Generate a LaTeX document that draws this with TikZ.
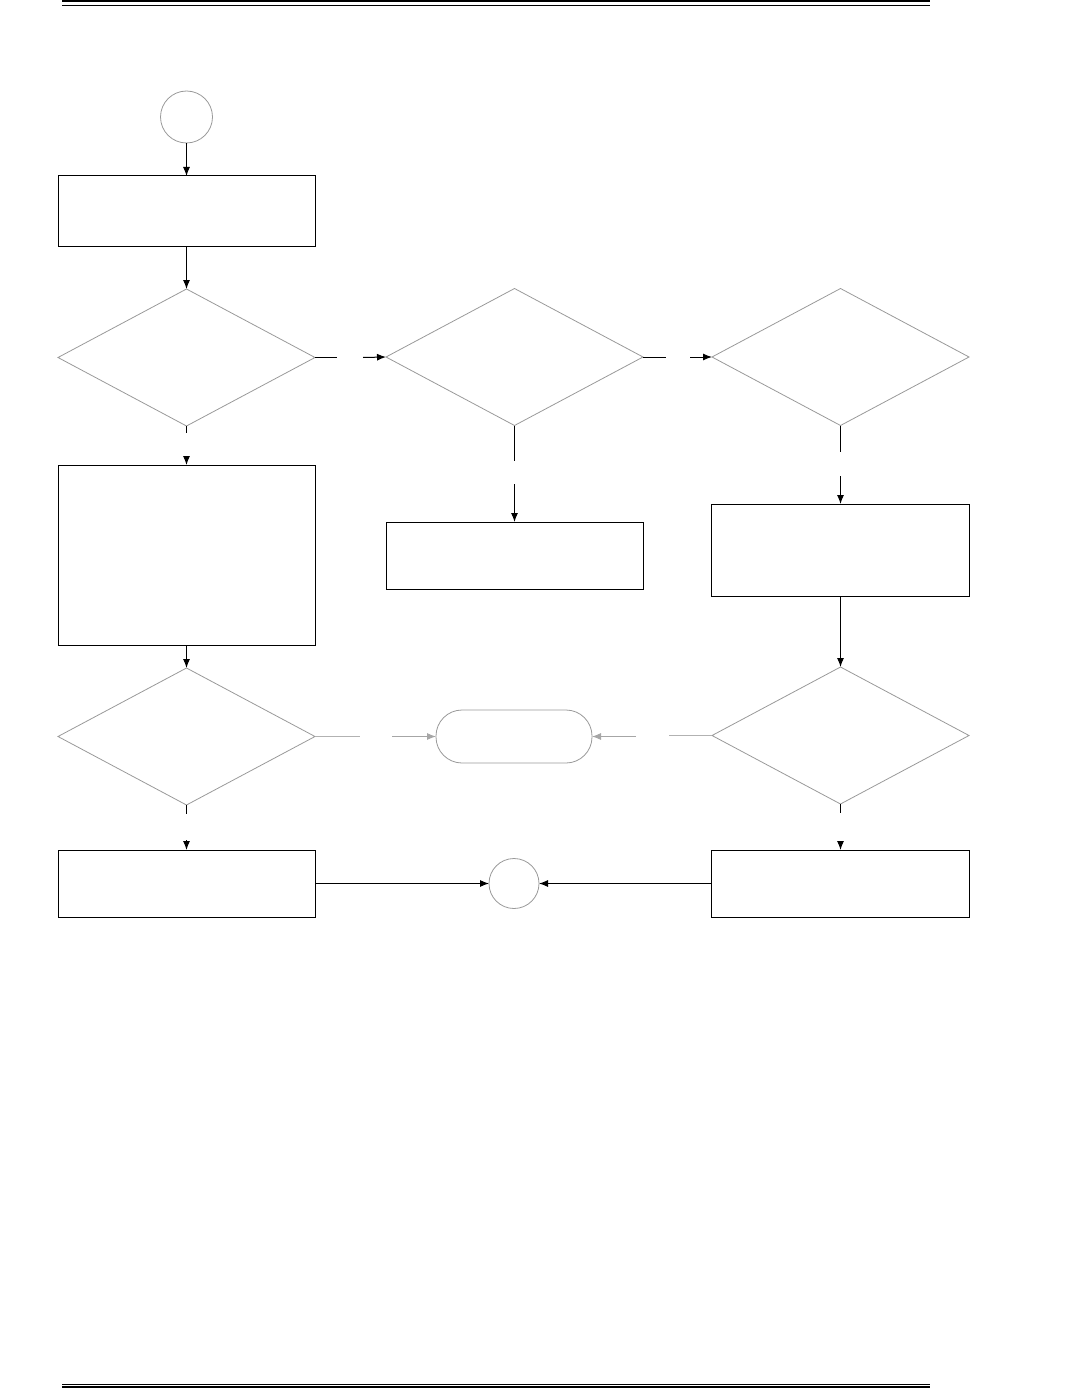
\documentclass[tikz,border=0pt]{standalone}
\usepackage{tikz}
\usetikzlibrary{arrows.meta, shapes}

\begin{document}
\begin{tikzpicture}[x=1pt, y=-1pt,
			box/.style={draw, rectangle, line width=1pt, inner sep=0pt, outer sep=0pt},
			raute/.style={draw=gray!80, diamond, line width=0.8pt, inner sep=0pt, outer sep=0pt, minimum width=257pt, minimum height=137pt},
			kreis/.style={draw=gray!80, circle, line width=0.8pt, inner sep=0pt, outer sep=0pt, minimum size=#1},
			oval/.style={draw=gray!80, rectangle, rounded corners=26pt, line width=0.8pt, inner sep=0pt, outer sep=0pt, minimum width=156pt, minimum height=53pt},
			pfeil/.style={->, line width=1pt},
			hell/.style={line width=0.9pt, gray!60},
			>={Latex[length=9pt, width=7pt]}]
			\useasboundingbox (0,0) rectangle (1080,1388);
			%Kopf- und Fusslinie
			\draw[line width=2pt] (62,1.5) -- (930,1.5);
			\draw[line width=0.8pt] (62,5) -- (930,5);
			\draw[line width=0.8pt] (62,1384) -- (930,1384);
			\draw[line width=2pt] (62,1387.3) -- (930,1387.3);
			% Knoten
			\node[kreis=52pt] (start) at (186.5,117) {};
			\node[box, minimum width=257pt, minimum height=71pt] (init) at (186.5,211.5) {};
			\node[raute] (r1) at (186.5,357.5) {};
			\node[raute] (r2) at (514.5,357) {};
			\node[raute] (r3) at (840.5,357) {};
			\node[box, minimum width=257pt, minimum height=180pt] (b2) at (186.5,555) {};
			\node[box, minimum width=257pt, minimum height=67pt] (b3) at (514.5,555.5) {};
			\node[box, minimum width=258pt, minimum height=92pt] (b4) at (840.5,550) {};
			\node[raute] (r4) at (186.5,736.5) {};
			\node[raute] (r5) at (840.5,735.5) {};
			\node[oval] (halt) at (514,736.5) {};
			\node[box, minimum width=257pt, minimum height=67pt] (b5) at (186.5,883.5) {};
			\node[box, minimum width=258pt, minimum height=67pt] (b6) at (840.5,883.5) {};
			\node[kreis=50pt] (ende) at (514,883.5) {};
			% Hilfspunkte an den Luecken
			\coordinate (r1a) at (337,357.5);  \coordinate (r1b) at (363,357.5);
			\coordinate (r2a) at (666,357);    \coordinate (r2b) at (690,357);
			\coordinate (r1c) at (186.5,433);  \coordinate (r1d) at (186.5,457);
			\coordinate (r2c) at (514.5,461);  \coordinate (r2d) at (514.5,484);
			\coordinate (r3c) at (840.5,452);  \coordinate (r3d) at (840.5,476);
			\coordinate (r4a) at (360,736.5);  \coordinate (r4b) at (392,736.5);
			\coordinate (r5a) at (669,735.5);  \coordinate (r5b) at (636,736.5);
			\coordinate (r4c) at (186.5,814);  \coordinate (r4d) at (186.5,840);
			\coordinate (r5c) at (840.5,813);  \coordinate (r5d) at (840.5,841);
			% Verbindungen
			\draw[pfeil] (start) -- (init);
			\draw[pfeil] (init) -- (r1);
			\draw[line width=1pt] (r1.east) -- (r1a);  \draw[pfeil] (r1b) -- (r2.west);
			\draw[line width=1pt] (r2.east) -- (r2a);  \draw[pfeil] (r2b) -- (r3.west);
			\draw[line width=1pt] (r1.south) -- (r1c); \draw[pfeil] (r1d) -- (b2.north);
			\draw[line width=1pt] (r2.south) -- (r2c); \draw[pfeil] (r2d) -- (b3.north);
			\draw[line width=1pt] (r3.south) -- (r3c); \draw[pfeil] (r3d) -- (b4.north);
			\draw[pfeil] (b2) -- (r4);
			\draw[pfeil] (b4) -- (r5);
			\draw[hell] (r4.east) -- (r4a);  \draw[pfeil, gray!70, line width=0.9pt] (r4b) -- (halt.west);
			\draw[hell] (r5.west) -- (r5a);  \draw[pfeil, gray!70, line width=0.9pt] (r5b) -- (halt.east);
			\draw[line width=1pt] (r4.south) -- (r4c); \draw[pfeil] (r4d) -- (b5.north);
			\draw[line width=1pt] (r5.south) -- (r5c); \draw[pfeil] (r5d) -- (b6.north);
			\draw[pfeil] (b5) -- (ende);
			\draw[pfeil] (b6) -- (ende);
		\end{tikzpicture}
\end{document}
